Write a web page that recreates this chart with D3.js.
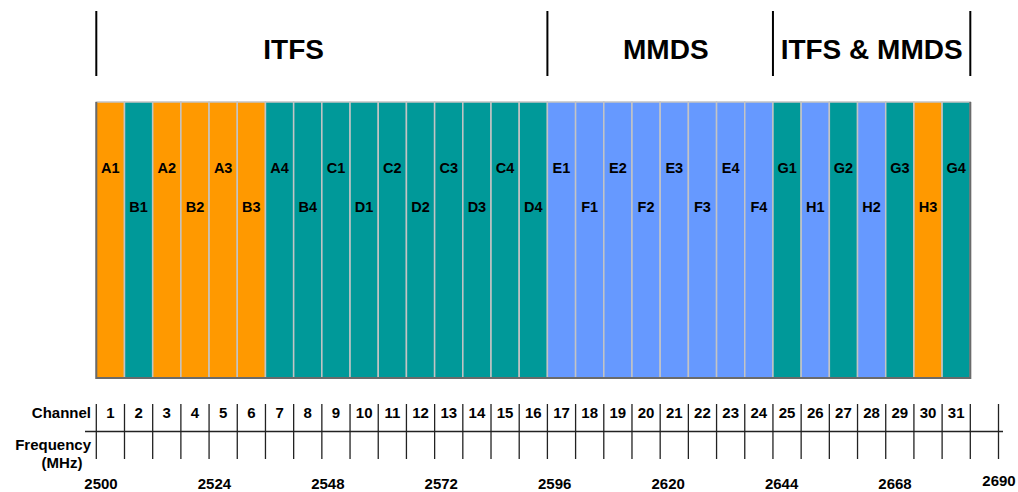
<!DOCTYPE html>
<html>
<head>
<meta charset="utf-8">
<script src="https://cdn.jsdelivr.net/npm/d3@7"></script>
<style>
  body { margin: 0; background: #fff; }
  text { font-family: "Liberation Sans", Arial, sans-serif; font-weight: bold; fill: #000; }
</style>
</head>
<body>
<svg id="chart" width="1018" height="492"></svg>
<script>
// channel numbers and the block names written in each bar
const channels = d3.range(1, 32)
const blocks = ['A1', 'B1', 'A2', 'B2', 'A3', 'B3', 'A4', 'B4',
  'C1', 'D1', 'C2', 'D2', 'C3', 'D3', 'C4', 'D4',
  'E1', 'F1', 'E2', 'F2', 'E3', 'F3', 'E4', 'F4',
  'G1', 'H1', 'G2', 'H2', 'G3', 'H3', 'G4']
// colour group of each block (0 orange, 1 teal, 2 blue)
const blockGroup = [0, 1, 0, 0, 0, 0, 1, 1,
  1, 1, 1, 1, 1, 1, 1, 1,
  2, 2, 2, 2, 2, 2, 2, 2,
  1, 2, 1, 2, 1, 0, 1]
const freqTicks = [2500, 2524, 2548, 2572, 2596, 2620, 2644, 2668, 2690]
// header bands, in channel boundaries (label anchor too)
const sections = [
  { name: 'ITFS', from: 0, to: 16, at: 7 },
  { name: 'MMDS', from: 16, to: 24, at: 20.2 },
  { name: 'ITFS & MMDS', from: 24, to: 31, at: 27.5 }
]

const svg = d3.select('#chart')

// scales: channel boundaries (0..32) and frequency labels
const x = d3.scaleLinear().domain([0, 32]).range([96.3, 998.5])
const xf = d3.scaleLinear().domain([2500, 2690]).range([101, 999])
const y = d3.scaleLinear().domain([0, 1]).range([378, 102])
const color = d3.scaleOrdinal().domain([0, 1, 2]).range(['#ff9900', '#009999', '#6699ff'])

// header separators and titles
const cuts = [0, 16, 24, 31]
svg.selectAll('.hdr-line')
  .data(cuts)
  .join('line')
  .attr('class', 'hdr-line')
  .attr('x1', (d) => x(d)).attr('x2', (d) => x(d))
  .attr('y1', 11).attr('y2', 76)
  .attr('stroke', '#000')
  .attr('stroke-width', 2)

svg.selectAll('.hdr-text')
  .data(sections)
  .join('text')
  .attr('class', 'hdr-text')
  .attr('x', (d) => x(d.at))
  .attr('y', 59)
  .attr('text-anchor', 'middle')
  .attr('font-size', 28)
  .text((d) => d.name)

// the channel bars
svg.selectAll('.bar')
  .data(blocks)
  .join('rect')
  .attr('class', 'bar')
  .attr('x', (d, i) => x(i))
  .attr('y', y(1))
  .attr('width', (d, i) => x(i + 1) - x(i))
  .attr('height', y(0) - y(1))
  .attr('fill', (d, i) => color(blockGroup[i]))
  .attr('stroke', '#c4c4c4')
  .attr('stroke-width', 1.5)

// darker frame on left, bottom and right
svg.append('path')
  .attr('d', `M${x(0)},${y(1)}V${y(0)}H${x(31)}V${y(1)}`)
  .attr('fill', 'none')
  .attr('stroke', '#6a6a6a')
  .attr('stroke-width', 2)

svg.selectAll('.bar-label')
  .data(blocks)
  .join('text')
  .attr('class', 'bar-label')
  .attr('x', (d, i) => (x(i) + x(i + 1)) / 2)
  .attr('y', (d, i) => (i % 2 === 0 ? 172.5 : 211.5))
  .attr('text-anchor', 'middle')
  .attr('font-size', 14.5)
  .text((d) => d)

// channel / frequency table
svg.append('line')
  .attr('x1', 85).attr('x2', 1003)
  .attr('y1', 431.5).attr('y2', 431.5)
  .attr('stroke', '#222')
  .attr('stroke-width', 1.3)

svg.selectAll('.tick-line')
  .data(d3.range(0, 33))
  .join('line')
  .attr('class', 'tick-line')
  .attr('x1', (d) => x(d)).attr('x2', (d) => x(d))
  .attr('y1', 404).attr('y2', 459)
  .attr('stroke', '#222')
  .attr('stroke-width', 1.3)

svg.selectAll('.chan')
  .data(channels)
  .join('text')
  .attr('class', 'chan')
  .attr('x', (d) => (x(d - 1) + x(d)) / 2)
  .attr('y', 417.5)
  .attr('text-anchor', 'middle')
  .attr('font-size', 15)
  .text((d) => d)

svg.append('text').attr('x', 91).attr('y', 417.5).attr('text-anchor', 'end')
  .attr('font-size', 15).text('Channel')
svg.append('text').attr('x', 91).attr('y', 449.5).attr('text-anchor', 'end')
  .attr('font-size', 15).text('Frequency')
svg.append('text').attr('x', 62).attr('y', 468).attr('text-anchor', 'middle')
  .attr('font-size', 15).text('(MHz)')

svg.selectAll('.freq')
  .data(freqTicks)
  .join('text')
  .attr('class', 'freq')
  .attr('x', (d) => xf(d))
  .attr('y', (d, i) => (i === freqTicks.length - 1 ? 485.5 : 488.5))
  .attr('text-anchor', 'middle')
  .attr('font-size', 15)
  .text((d) => d)
</script>
</body>
</html>
